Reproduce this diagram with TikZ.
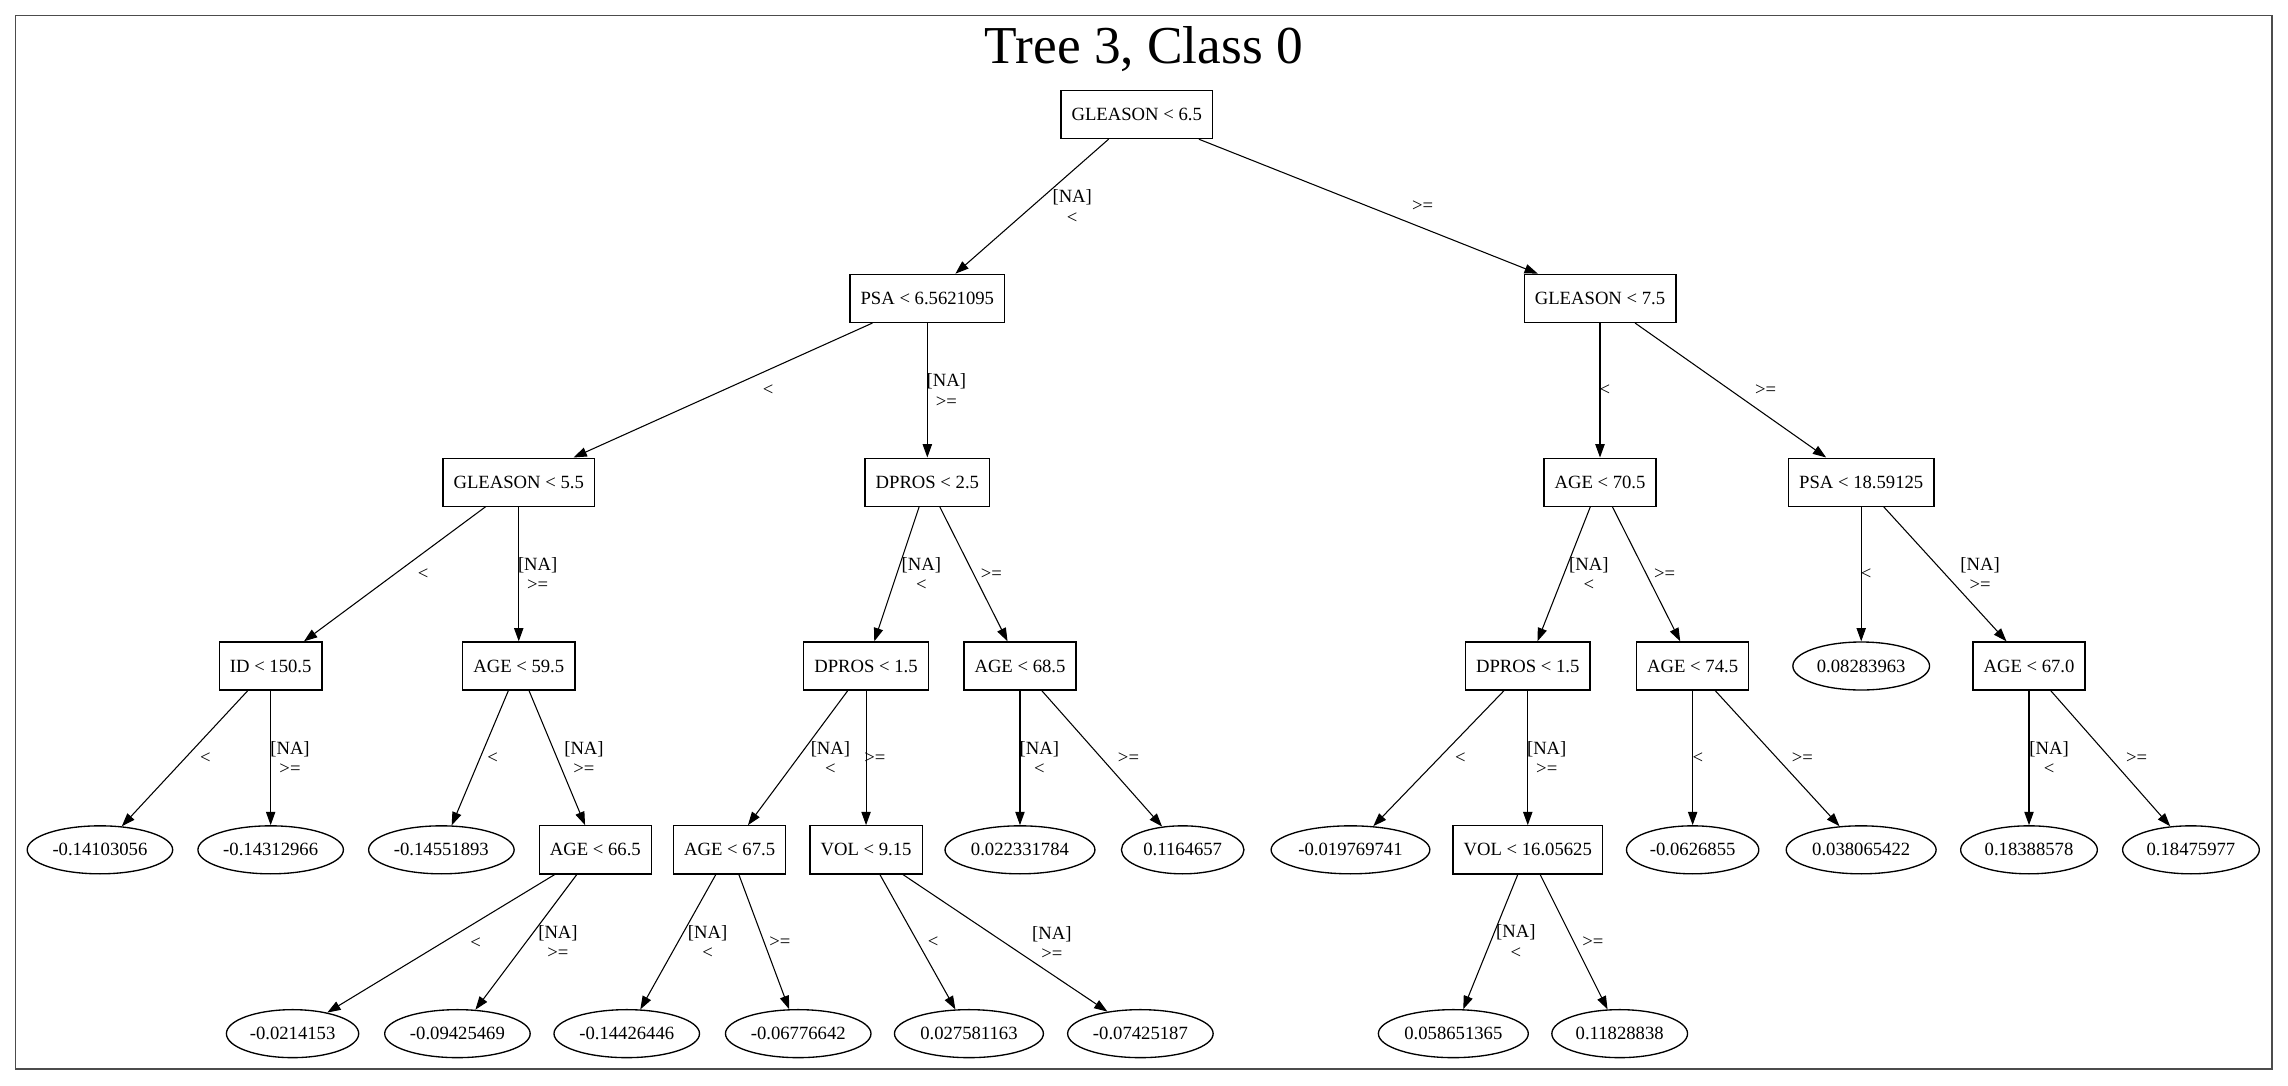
\documentclass[tikz,border=0pt]{standalone}
\usepackage{fontspec}
\setmainfont{Liberation Serif}
\usepackage{tikz}
\usetikzlibrary{shapes.geometric, arrows.meta, positioning}
\tikzset{
    splitbox/.style={
        rectangle,
        draw=black,
        line width=1pt,
        minimum height=36pt,
        inner xsep=8pt,
        inner ysep=0pt,
        fill=white,
        font=\fontsize{14pt}{15.5pt}\selectfont
    },
    leafnode/.style={
        ellipse,
        draw=black,
        line width=1pt,
        minimum height=36pt,
        inner xsep=3pt,
        inner ysep=0pt,
        fill=white,
        font=\fontsize{14pt}{15.5pt}\selectfont
    },
    branch/.style={
        draw=black,
        line width=0.8pt,
        -{Triangle[length=10pt, width=7pt]}
    },
    cond/.style={
        font=\fontsize{14pt}{15.5pt}\selectfont,
        align=center,
        inner sep=0pt
    },
    frame/.style={
        draw=black!70,
        line width=1.2pt
    },
    title/.style={
        font=\fontsize{40pt}{48pt}\selectfont
    }
}

\begin{document}
\begin{tikzpicture}[node distance=3.545cm]

\useasboundingbox (-29.963,3.019) rectangle (30.347,-25.581);
\draw[frame] (-29.551,2.615) rectangle (29.920,-25.159);

% Title
\node[title, anchor=base] (title) at (0.19,1.339) {Tree 3, Class 0};

% Root
\node[splitbox] (root) at (0,0) {GLEASON < 6.5};

% Level 1
\node[splitbox, below=of root, xshift=-5.519cm] (psa1) {PSA < 6.5621095};
\node[splitbox, below=of root, xshift=12.212cm] (gl75) {GLEASON < 7.5};

% Level 2
\node[splitbox, below=of psa1, xshift=-10.770cm] (gl55) {GLEASON < 5.5};
\node[splitbox, below=of psa1] (dpros25) {DPROS < 2.5};
\node[splitbox, below=of gl75] (age705) {AGE < 70.5};
\node[splitbox, below=of gl75, xshift=6.885cm] (psa18) {PSA < 18.59125};

% Level 3
\node[splitbox, below=of gl55, xshift=-6.539cm] (id150) {ID < 150.5};
\node[splitbox, below=of gl55] (age595) {AGE < 59.5};
\node[splitbox, below=of dpros25, xshift=-1.615cm] (dpros15a) {DPROS < 1.5};
\node[splitbox, below=of dpros25, xshift=2.442cm] (age685) {AGE < 68.5};
\node[splitbox, below=of age705, xshift=-1.904cm] (dpros15b) {DPROS < 1.5};
\node[splitbox, below=of age705, xshift=2.442cm] (age745) {AGE < 74.5};
\node[leafnode, below=of psa18] (lf0828) {0.08283963};
\node[splitbox, below=of psa18, xshift=4.423cm] (age670) {AGE < 67.0};

% Level 4
\node[leafnode, below=of id150, xshift=-4.500cm] (lf14103) {-0.14103056};
\node[leafnode, below=of id150] (lf14312) {-0.14312966};
\node[leafnode, below=of age595, xshift=-2.039cm] (lf14551) {-0.14551893};
\node[splitbox, below=of age595, xshift=2.019cm] (age665) {AGE < 66.5};
\node[splitbox, below=of dpros15a, xshift=-3.596cm] (age675) {AGE < 67.5};
\node[splitbox, below=of dpros15a] (vol915) {VOL < 9.15};
\node[leafnode, below=of age685] (lf02233) {0.022331784};
\node[leafnode, below=of age685, xshift=4.289cm] (lf11646) {0.1164657};
\node[leafnode, below=of dpros15b, xshift=-4.673cm] (lf01976) {-0.019769741};
\node[splitbox, below=of dpros15b] (vol1605) {VOL < 16.05625};
\node[leafnode, below=of age745] (lf06268) {-0.0626855};
\node[leafnode, below=of age745, xshift=4.442cm] (lf03806) {0.038065422};
\node[leafnode, below=of age670] (lf18388) {0.18388578};
\node[leafnode, below=of age670, xshift=4.269cm] (lf18475) {0.18475977};

% Level 5
\node[leafnode, below=of age665, xshift=-7.981cm] (lf02141) {-0.0214153};
\node[leafnode, below=of age665, xshift=-3.635cm] (lf09425) {-0.09425469};
\node[leafnode, below=of age675, xshift=-2.712cm] (lf14426) {-0.14426446};
\node[leafnode, below=of age675, xshift=1.808cm] (lf06776) {-0.06776642};
\node[leafnode, below=of vol915, xshift=2.712cm] (lf02758) {0.027581163};
\node[leafnode, below=of vol915, xshift=7.231cm] (lf07425) {-0.07425187};
\node[leafnode, below=of vol1605, xshift=-1.962cm] (lf05865) {0.058651365};
\node[leafnode, below=of vol1605, xshift=2.423cm] (lf11828) {0.11828838};

% Branches from the root
\draw[branch] (root) -- node[cond, xshift=1.06cm] {[NA]\\<} (psa1);
\draw[branch] (root) -- node[cond, xshift=1.43cm] {>=} (gl75);

% Branches of level 1
\draw[branch] (psa1) -- node[cond, xshift=1.19cm] {<} (gl55);
\draw[branch] (psa1) -- node[cond, xshift=0.50cm] {[NA]\\>=} (dpros25);
\draw[branch] (gl75) -- node[cond, xshift=0.13cm] {<} (age705);
\draw[branch] (gl75) -- node[cond, xshift=0.92cm] {>=} (psa18);

% Branches of level 2
\draw[branch] (gl55) -- node[cond, xshift=0.75cm] {<} (id150);
\draw[branch] (gl55) -- node[cond, xshift=0.50cm] {[NA]\\>=} (age595);
\draw[branch] (dpros25) -- node[cond, xshift=0.65cm] {[NA]\\<} (dpros15a);
\draw[branch] (dpros25) -- node[cond, xshift=0.47cm] {>=} (age685);
\draw[branch] (age705) -- node[cond, xshift=0.66cm] {[NA]\\<} (dpros15b);
\draw[branch] (age705) -- node[cond, xshift=0.48cm] {>=} (age745);
\draw[branch] (psa18) -- node[cond, xshift=0.13cm] {<} (lf0828);
\draw[branch] (psa18) -- node[cond, xshift=0.92cm] {[NA]\\>=} (age670);

% Branches of level 3
\draw[branch] (id150) -- node[cond, xshift=0.54cm] {<} (lf14103);
\draw[branch] (id150) -- node[cond, xshift=0.51cm] {[NA]\\>=} (lf14312);
\draw[branch] (age595) -- node[cond, xshift=0.33cm] {<} (lf14551);
\draw[branch] (age595) -- node[cond, xshift=0.71cm] {[NA]\\>=} (age665);
\draw[branch] (dpros15a) -- node[cond, xshift=0.86cm] {[NA]\\<} (age675);
\draw[branch] (dpros15a) -- node[cond, xshift=0.23cm] {>=} (vol915);
\draw[branch] (age685) -- node[cond, xshift=0.51cm] {[NA]\\<} (lf02233);
\draw[branch] (age685) -- node[cond, xshift=0.70cm] {>=} (lf11646);
\draw[branch] (dpros15b) -- node[cond, xshift=0.57cm] {<} (lf01976);
\draw[branch] (dpros15b) -- node[cond, xshift=0.50cm] {[NA]\\>=} (vol1605);
\draw[branch] (age745) -- node[cond, xshift=0.14cm] {<} (lf06268);
\draw[branch] (age745) -- node[cond, xshift=0.66cm] {>=} (lf03806);
\draw[branch] (age670) -- node[cond, xshift=0.53cm] {[NA]\\<} (lf18388);
\draw[branch] (age670) -- node[cond, xshift=0.69cm] {>=} (lf18475);

% Branches of level 4
\draw[branch] (age665) -- node[cond, xshift=0.91cm] {<} (lf02141);
\draw[branch] (age665) -- node[cond, xshift=0.84cm] {[NA]\\>=} (lf09425);
\draw[branch] (age675) -- node[cond, xshift=0.78cm] {[NA]\\<} (lf14426);
\draw[branch] (age675) -- node[cond, xshift=0.42cm] {>=} (lf06776);
\draw[branch] (vol915) -- node[cond, xshift=0.41cm] {<} (lf02758);
\draw[branch] (vol915) -- node[cond, xshift=1.23cm] {[NA]\\>=} (lf07425);
\draw[branch] (vol1605) -- node[cond, xshift=0.67cm] {[NA]\\<} (lf05865);
\draw[branch] (vol1605) -- node[cond, xshift=0.50cm] {>=} (lf11828);

\end{tikzpicture}
\end{document}
